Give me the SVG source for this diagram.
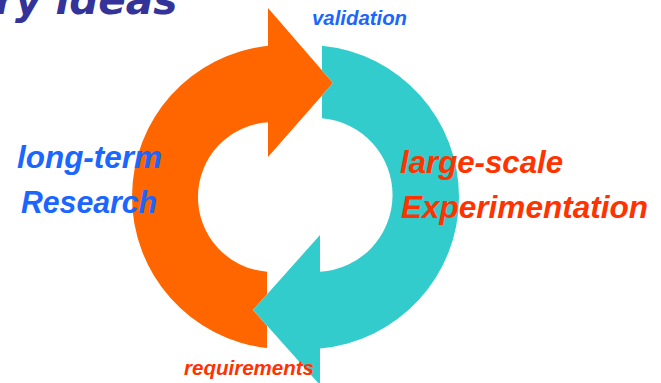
<svg xmlns="http://www.w3.org/2000/svg" width="661" height="383" viewBox="0 0 661 383">
  <style>
    .lbl { font-family: "Liberation Sans", Arial, sans-serif; font-weight: bold; font-style: italic; }
    .blue { fill: #1a66ff; }
    .red { fill: #ff3300; }
    .orange { fill: #ff6600; }
    .teal { fill: #33cccc; }
    .title { font-family: "DejaVu Sans", Verdana, sans-serif; font-weight: bold; font-style: italic; fill: #333399; font-size: 40.5px; }
  </style>
  <rect width="661" height="383" fill="#ffffff"/>
  <text class="title" x="-5" y="14">ry ideas</text>
  <g id="connectors">
    <g id="research-to-experimentation">
      <path class="orange" d="M 268,45.8 A 152 152 0 0 0 267,348 L 267,325.7 L 253,310 L 267,294.3 L 267,271.8 A 75 75 0 0 1 268,122.2 L 268,157 L 333,83 L 268,8 Z"/>
      <text class="lbl blue" x="312" y="25" font-size="20" textLength="95" lengthAdjust="spacingAndGlyphs">validation</text>
    </g>
    <g id="experimentation-to-research">
      <path class="teal" d="M 322,45.7 A 152 152 0 0 1 320,348.4 L 320,385 L 253,310 L 320,235 L 320,271.8 A 77 77 0 0 0 322,118.2 L 322,95.5 L 333,83 L 322,70.3 Z"/>
      <text class="lbl red" x="184" y="375" font-size="20.5" textLength="130" lengthAdjust="spacingAndGlyphs">requirements</text>
    </g>
  </g>
  <g id="research">
    <text class="lbl blue" x="17" y="168" font-size="31" textLength="145" lengthAdjust="spacingAndGlyphs">long-term</text>
    <text class="lbl blue" x="21" y="213" font-size="31" textLength="136" lengthAdjust="spacingAndGlyphs">Research</text>
  </g>
  <g id="experimentation">
    <text class="lbl red" x="400" y="173" font-size="31" textLength="163" lengthAdjust="spacingAndGlyphs">large-scale</text>
    <text class="lbl red" x="401" y="218" font-size="31" textLength="247" lengthAdjust="spacingAndGlyphs">Experimentation</text>
  </g>
</svg>
